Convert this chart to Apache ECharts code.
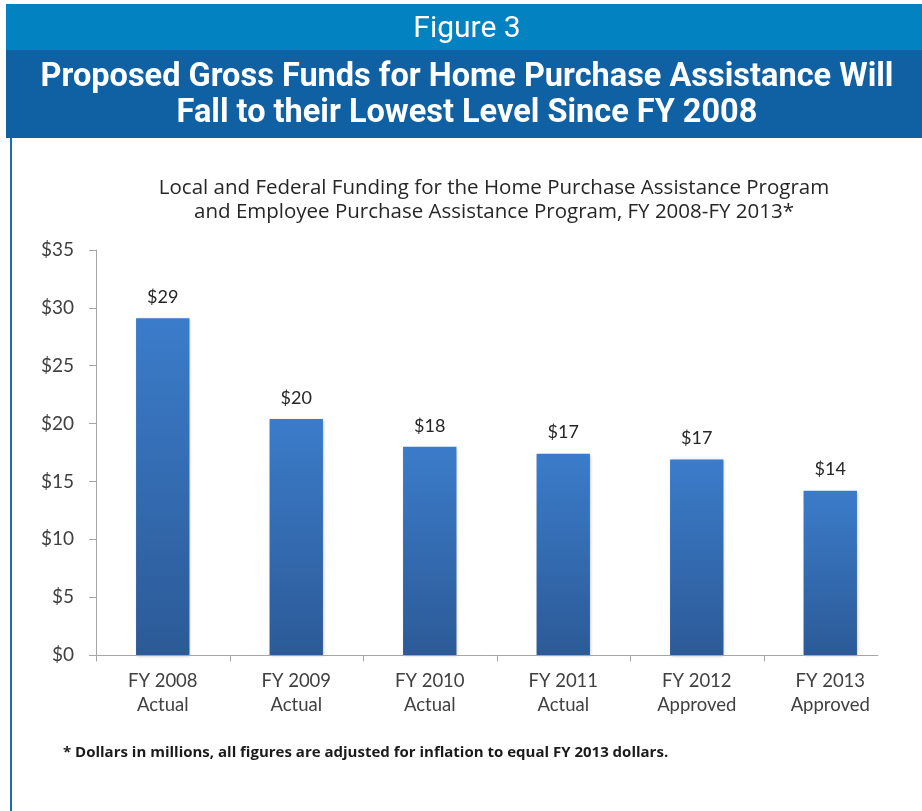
<!DOCTYPE html>
<html>
<head>
<meta charset="utf-8">
<script src="https://cdn.jsdelivr.net/npm/echarts@6/dist/echarts.min.js"></script>
<style>
  html, body { margin: 0; padding: 0; background: #fff; }
  #chart { width: 922px; height: 811px; }
</style>
</head>
<body>
<div id="chart"></div>
<script>
// Funding by fiscal year, dollars in millions (inflation-adjusted to FY 2013)
const categories = ['FY 2008\nActual', 'FY 2009\nActual', 'FY 2010\nActual', 'FY 2011\nActual', 'FY 2012\nApproved', 'FY 2013\nApproved'];
const funding = [29.1, 20.4, 18.0, 17.4, 16.9, 14.2];
const yTicks = { min: 0, max: 35, interval: 5 };

const figureLabel = 'Figure 3';
const headline = 'Proposed Gross Funds for Home Purchase Assistance Will\nFall to their Lowest Level Since FY 2008';
const subtitle = 'Local and Federal Funding for the Home Purchase Assistance Program\nand Employee Purchase Assistance Program, FY 2008-FY 2013*';
const footnote = '* Dollars in millions, all figures are adjusted for inflation to equal FY 2013 dollars.';

const bodyFont = '"Open Sans", Lato, sans-serif';
const axisFont = 'Lato, "Open Sans", sans-serif';
const headFont = 'Roboto, "Liberation Sans", sans-serif';
const axisGray = '#a6a6a6';

const chart = echarts.init(document.getElementById('chart'), null, { renderer: 'canvas' });

const baseGraphics = [
  // header bands
  { type: 'rect', left: 6, top: 4, shape: { width: 916, height: 46 }, style: { fill: '#0282c0' }, z: 0 },
  { type: 'rect', left: 6, top: 50, shape: { width: 916, height: 88 }, style: { fill: '#1060a4' }, z: 0 },
  // left frame rule
  { type: 'rect', left: 10, top: 138, shape: { width: 2, height: 673 }, style: { fill: '#1e6bb0' }, z: 0 },
  { type: 'text', x: 467, y: 29, style: { text: figureLabel, fill: '#ffffff', font: '30px ' + headFont, align: 'center', verticalAlign: 'middle' }, z: 2 },
  { type: 'text', x: 467, y: 96, style: { text: headline, fill: '#ffffff', font: 'bold 32.5px ' + headFont, lineHeight: 36, align: 'center', verticalAlign: 'middle' }, z: 2 },
  { type: 'text', x: 494, y: 200, style: { text: subtitle, fill: '#262626', font: '20.5px ' + bodyFont, lineHeight: 24, align: 'center', verticalAlign: 'middle' }, z: 2 },
  { type: 'text', x: 63, y: 753, style: { text: footnote, fill: '#1a1a1a', font: 'bold 15px ' + bodyFont, verticalAlign: 'middle' }, z: 2 }
];

chart.setOption({
  backgroundColor: '#ffffff',
  animation: false,
  graphic: baseGraphics,
  grid: { left: 96, right: 25, top: 250, bottom: 156, containLabel: false },
  xAxis: {
    type: 'category',
    data: categories,
    axisLine: { show: false },
    axisTick: { show: false },
    axisLabel: { color: '#404040', fontFamily: axisFont, fontSize: 18.5, lineHeight: 24, margin: 14, interval: 0 }
  },
  yAxis: {
    type: 'value',
    min: yTicks.min, max: yTicks.max, interval: yTicks.interval,
    axisLine: { show: true, lineStyle: { color: axisGray, width: 1 } },
    axisTick: { show: true, length: 7, lineStyle: { color: axisGray } },
    splitLine: { show: false },
    axisLabel: { color: '#404040', fontFamily: axisFont, fontSize: 19, margin: 22, formatter: v => '$' + v }
  },
  series: [{
    type: 'bar',
    data: funding,
    barWidth: '40%',
    itemStyle: {
      color: new echarts.graphic.LinearGradient(0, 0, 0, 1, [
        { offset: 0, color: '#3b7cca' },
        { offset: 1, color: '#2c5a97' }
      ]),
      shadowColor: 'rgba(0,0,0,0.25)', shadowBlur: 3, shadowOffsetX: 1, shadowOffsetY: 1
    },
    label: {
      show: true, position: 'top', distance: 12,
      color: '#262626', fontFamily: axisFont, fontSize: 18,
      formatter: p => '$' + Math.round(p.value)
    }
  }]
});

// Category baseline and divider ticks: the line stops short of the last category edge
const zeroY = Math.round(chart.convertToPixel({ yAxisIndex: 0 }, 0)) + 0.5;
const centers = categories.map((_, i) => chart.convertToPixel({ xAxisIndex: 0 }, i));
const band = centers.length > 1 ? (centers[centers.length - 1] - centers[0]) / (centers.length - 1) : 0;
const x0 = centers[0] - band / 2;
const x1 = centers[centers.length - 1] + band * 0.36;
const axisMarks = [
  { type: 'line', shape: { x1: x0, y1: zeroY, x2: x1, y2: zeroY }, style: { stroke: axisGray, lineWidth: 1 }, z: 5 }
].concat(centers.map(c => {
  const tx = Math.round(c - band / 2) + 0.5;
  return { type: 'line', shape: { x1: tx, y1: zeroY, x2: tx, y2: zeroY + 6 }, style: { stroke: axisGray, lineWidth: 1 }, z: 5 };
}));
chart.setOption({ graphic: baseGraphics.concat(axisMarks) });
</script>
</body>
</html>
